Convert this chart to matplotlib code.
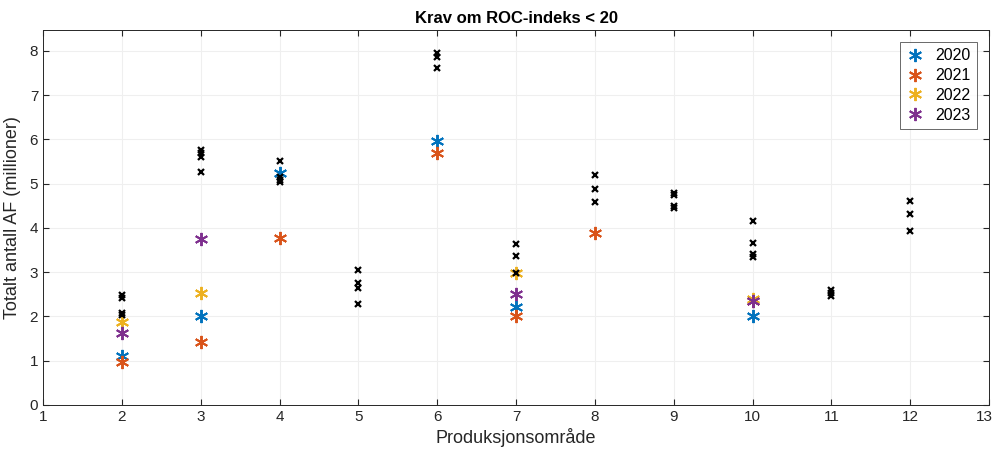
import matplotlib

matplotlib.use("Agg")

import matplotlib.pyplot as plt
from matplotlib.transforms import ScaledTranslation

plt.rcParams["font.family"] = ["Liberation Sans", "DejaVu Sans"]

# year series (produksjonsområde -> millioner AF)
years = ["2020", "2021", "2022", "2023"]
colors = ["#0072BD", "#D95319", "#EDB120", "#7E2F8E"]

x_2020 = [2, 3, 4, 6, 7, 10]
y_2020 = [1.10, 2.02, 5.24, 5.96, 2.22, 2.02]
x_2021 = [2, 3, 4, 6, 7, 8, 10]
y_2021 = [0.98, 1.43, 3.77, 5.70, 2.02, 3.88, 2.36]
x_2022 = [2, 3, 7, 10]
y_2022 = [1.88, 2.53, 2.98, 2.40]
x_2023 = [2, 3, 7, 10]
y_2023 = [1.63, 3.75, 2.51, 2.34]

# black reference points
ref_x = [2, 2, 2, 2,
         3, 3, 3, 3,
         4, 4, 4, 4,
         5, 5, 5, 5,
         6, 6, 6,
         7, 7, 7,
         8, 8, 8,
         9, 9, 9, 9,
         10, 10, 10, 10,
         11, 11, 11,
         12, 12, 12]
ref_y = [2.48, 2.41, 2.07, 2.04,
         5.75, 5.70, 5.60, 5.27,
         5.51, 5.15, 5.08, 5.03,
         3.06, 2.75, 2.65, 2.28,
         7.95, 7.86, 7.61,
         3.63, 3.37, 2.98,
         5.19, 4.89, 4.59,
         4.79, 4.75, 4.50, 4.44,
         4.15, 3.67, 3.40, 3.35,
         2.60, 2.54, 2.47,
         4.60, 4.32, 3.93]

series_x = [x_2020, x_2021, x_2022, x_2023]
series_y = [y_2020, y_2021, y_2022, y_2023]

fig = plt.figure(figsize=(9.94, 4.5), dpi=100)
ax = fig.add_axes([0.0433, 0.1, 0.9517, 0.8333])

for xs, ys, label, color in zip(series_x, series_y, years, colors):
    ax.plot(xs, ys, linestyle="none", marker=(6, 2, 0), markersize=9.5,
            markeredgewidth=1.4, color=color, label=label)

ax.plot(ref_x, ref_y, linestyle="none", marker="x", markersize=4.5,
        markeredgewidth=1.6, color="black")

ax.set_xlim(1, 13)
ax.set_ylim(0, 8.47)
ax.set_xticks(range(1, 14))
ax.set_yticks(range(0, 9))
ax.grid(True, color="#efefef", linewidth=0.8)
ax.set_axisbelow(True)
ax.tick_params(direction="in", length=4, labelsize=11, colors="#262626",
               top=True, right=True)
for spine in ax.spines.values():
    spine.set_color("#262626")
    spine.set_linewidth(0.7)

# keep the last tick label inside the picture
last = ax.get_xticklabels()[-1]
last.set_transform(last.get_transform() + ScaledTranslation(-0.05, 0, fig.dpi_scale_trans))

ax.set_title("Krav om ROC-indeks < 20", fontsize=12, fontweight="bold", pad=5)
ax.set_xlabel("Produksjonsområde", fontsize=13, color="#262626", labelpad=3)
ax.set_ylabel("Totalt antall AF (millioner)", fontsize=13, color="#262626", labelpad=6)

leg = ax.legend(loc="upper right", fontsize=11.5, frameon=True, fancybox=False,
                edgecolor="#262626", borderaxespad=0.75, handlelength=1.1,
                labelspacing=0.3, borderpad=0.4, handletextpad=0.7)
leg.get_frame().set_linewidth(0.6)

fig.savefig("out.png", dpi=100)
